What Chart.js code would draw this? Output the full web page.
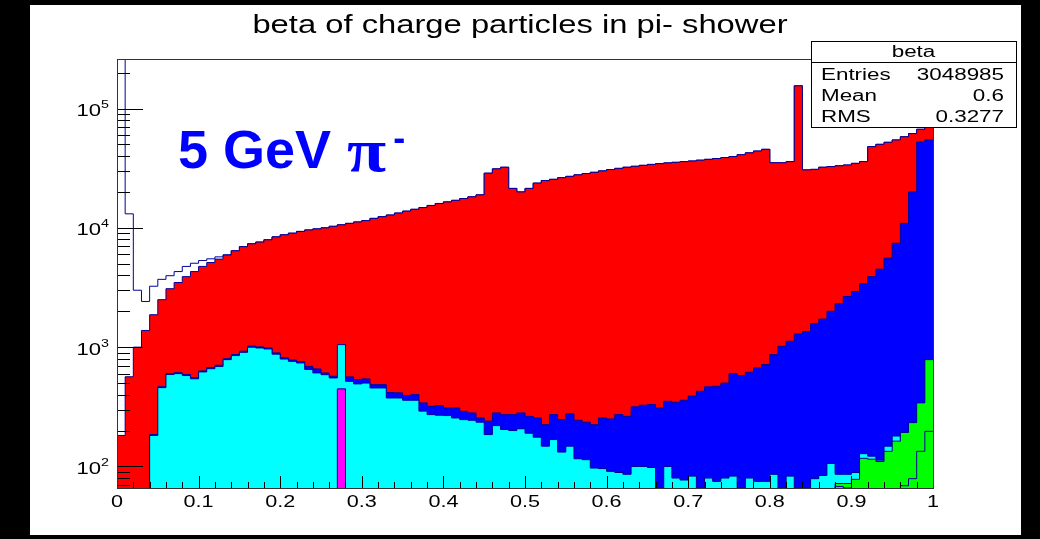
<!DOCTYPE html>
<html>
<head>
<meta charset="utf-8">
<script src="https://cdn.jsdelivr.net/npm/chart.js@4.4.1/dist/chart.umd.min.js"></script>
<style>
  html, body { margin: 0; padding: 0; background: #000; }
  #wrap { position: relative; width: 1040px; height: 539px; }
</style>
</head>
<body>
<div id="wrap"><canvas id="chart-beta"></canvas></div>
<script>
const plotTitle = "beta of charge particles in pi- shower";
const nBins = 100;
const xMin = 0;
const xMax = 1;
const yMin = 66;
const yMax = 2.6e5;
const xTickLabels = ["0", "0.1", "0.2", "0.3", "0.4", "0.5", "0.6", "0.7", "0.8", "0.9", "1"];
const yTickExponents = [2, 3, 4, 5];
const statsName = "beta";
const statsLabels = ["Entries", "Mean", "RMS"];
const statsValues = ["3048985", "0.6", "0.3277"];
const annotation = ["5 GeV ", "\u03c0", "-"];

// bin contents, 100 bins of 0.01 in beta
const hTotal = [
  300000, 13100, 3000, 2415, 3240, 3700, 3970, 4300, 4750, 5050,
  5320, 5500, 5710, 5950, 6420, 6950, 7350, 7600, 7940, 8400,
  8740, 9020, 9330, 9600, 9800, 10000, 10300, 10600, 10900, 11200,
  11500, 12000, 12400, 12800, 13300, 13800, 14300, 14800, 15400, 16000,
  16500, 17000, 17600, 18200, 18900, 28700, 31200, 32200, 21400, 20000,
  21400, 23700, 24900, 25500, 26300, 27000, 27800, 28500, 29200, 30000,
  30800, 31500, 32200, 32800, 33400, 34000, 34500, 35000, 35400, 35900,
  36300, 36900, 37500, 38100, 38800, 39600, 41000, 42500, 44000, 45500,
  35100, 35100, 35900, 155000, 30600, 30900, 32200, 32600, 33100, 33600,
  34700, 35900, 47900, 50100, 52100, 54500, 58000, 61700, 67000, 75000
];
const hRed = [
  182, 565, 1000, 1380, 1870, 2500, 3090, 3480, 3900, 4300,
  4750, 5120, 5470, 5900, 6420, 6950, 7350, 7600, 7940, 8400,
  8740, 9020, 9330, 9600, 9800, 10000, 10300, 10600, 10900, 11200,
  11500, 12000, 12400, 12800, 13300, 13800, 14300, 14800, 15400, 16000,
  16500, 17000, 17600, 18200, 18900, 28700, 31200, 32200, 21400, 20000,
  21400, 23700, 24900, 25500, 26300, 27000, 27800, 28500, 29200, 30000,
  30800, 31500, 32200, 32800, 33400, 34000, 34500, 35000, 35400, 35900,
  36300, 36900, 37500, 38100, 38800, 39600, 41000, 42500, 44000, 45500,
  35100, 35100, 35900, 155000, 30600, 30900, 32200, 32600, 33100, 33600,
  34700, 35900, 47900, 50100, 52100, 54500, 58000, 61700, 67000, 75000
];
const hBlue = [
  0, 0, 0, 0, 185, 465, 600, 610, 590, 555,
  632, 675, 705, 800, 868, 925, 1020, 1005, 985, 895,
  815, 780, 757, 690, 657, 608, 570, 565, 563, 535,
  542, 485, 485, 417, 414, 393, 400, 341, 319, 324,
  309, 309, 290, 281, 255, 240, 281, 272, 272, 281,
  263, 255, 224, 272, 247, 276, 244, 235, 224, 255,
  250, 272, 263, 316, 326, 331, 309, 352, 345, 359,
  389, 427, 465, 470, 500, 600, 577, 616, 670, 714,
  865, 1016, 1120, 1290, 1350, 1570, 1720, 2000, 2310, 2660,
  2930, 3400, 3900, 4500, 5570, 7420, 10900, 20000, 52500, 54500
];
const hCyan = [
  0, 0, 0, 0, 182, 458, 590, 600, 578, 543,
  620, 660, 690, 786, 850, 905, 1000, 985, 966, 874,
  795, 760, 737, 650, 608, 588, 552, 1050, 517, 492,
  500, 455, 455, 375, 375, 359, 359, 291, 272, 269,
  267, 255, 247, 244, 235, 185, 220, 204, 200, 207,
  190, 176, 148, 168, 132, 148, 116, 114, 97, 96,
  91, 89, 86, 100, 100, 98, 60, 100, 80, 77,
  83, 62, 80, 75, 80, 83, 60, 80, 75, 75,
  86, 62, 83, 64, 64, 79, 84, 106, 86, 86,
  89, 128, 122, 113, 148, 180, 150, 160, 200, 300
];
const hGreen = [
  0, 0, 0, 0, 0, 0, 0, 0, 0, 0,
  0, 0, 0, 0, 0, 0, 0, 0, 0, 0,
  0, 0, 0, 0, 0, 0, 0, 0, 0, 0,
  0, 0, 0, 0, 0, 0, 0, 0, 0, 0,
  0, 0, 0, 0, 0, 0, 0, 0, 0, 0,
  0, 0, 0, 0, 0, 0, 0, 0, 0, 0,
  0, 0, 0, 0, 0, 0, 0, 0, 0, 0,
  0, 0, 0, 0, 0, 0, 0, 0, 0, 0,
  0, 0, 0, 0, 0, 0, 0, 0, 72, 72,
  78, 117, 115, 110, 134, 163, 193, 233, 341, 786
];
const hOutline = [
  0, 0, 0, 0, 0, 0, 0, 0, 0, 0,
  0, 0, 0, 0, 0, 0, 0, 0, 0, 0,
  0, 0, 0, 0, 0, 0, 0, 0, 0, 0,
  0, 0, 0, 0, 0, 0, 0, 0, 0, 0,
  0, 0, 0, 0, 0, 0, 0, 0, 0, 0,
  0, 0, 0, 0, 0, 0, 0, 0, 0, 0,
  0, 0, 0, 0, 0, 0, 0, 0, 0, 0,
  0, 0, 0, 0, 0, 0, 0, 0, 0, 0,
  0, 0, 0, 0, 0, 0, 0, 0, 68, 66,
  0, 0, 0, 0, 0, 0, 69, 79, 134, 197
];
const hMagenta = [
  0, 0, 0, 0, 0, 0, 0, 0, 0, 0,
  0, 0, 0, 0, 0, 0, 0, 0, 0, 0,
  0, 0, 0, 0, 0, 0, 0, 447, 0, 0,
  0, 0, 0, 0, 0, 0, 0, 0, 0, 0,
  0, 0, 0, 0, 0, 0, 0, 0, 0, 0,
  0, 0, 0, 0, 0, 0, 0, 0, 0, 0,
  0, 0, 0, 0, 0, 0, 0, 0, 0, 0,
  0, 0, 0, 0, 0, 0, 0, 0, 0, 0,
  0, 0, 0, 0, 0, 0, 0, 0, 0, 0,
  0, 0, 0, 0, 0, 0, 0, 0, 0, 0
];

const lineColor = "#000099";
const binWidth = (xMax - xMin) / nBins;
const floorValue = 1; // empty bins sit below the visible range

// step points at bin low edges, closing point at xMax
function steps(counts) {
  const pts = counts.map((c, i) => ({ x: xMin + i * binWidth, y: Math.max(c, floorValue) }));
  pts.push({ x: xMax, y: Math.max(counts[counts.length - 1], floorValue) });
  return pts;
}

function hist(label, counts, fillColor) {
  return {
    label: label,
    data: steps(counts),
    stepped: true,
    borderColor: lineColor,
    borderWidth: 1,
    backgroundColor: fillColor || "transparent",
    fill: fillColor ? "start" : false,
    pointRadius: 0,
  };
}

function stretchText(ctx, text, x, y, font, align, sx) {
  ctx.save();
  ctx.font = font;
  ctx.textAlign = align;
  ctx.textBaseline = "alphabetic";
  ctx.translate(x, y);
  ctx.scale(sx, 1);
  ctx.fillText(text, 0, 0);
  ctx.restore();
}

const panel = {
  id: "panel",
  beforeDraw(chart) {
    const { ctx } = chart;
    ctx.save();
    ctx.fillStyle = "#000";
    ctx.fillRect(0, 0, chart.width, chart.height);
    ctx.fillStyle = "#fff";
    ctx.fillRect(30, 5, 991, 530);
    ctx.restore();
  },
};

const rootAxes = {
  id: "rootAxes",
  afterDatasetsDraw(chart) {
    const { ctx, chartArea: { left, right, top, bottom } } = chart;
    const xs = chart.scales.x;
    const ys = chart.scales.y;
    ctx.save();
    ctx.strokeStyle = "#000";
    ctx.lineWidth = 1;
    ctx.beginPath();
    // x ticks every 0.02, long at 0.1
    for (let i = 0; i <= 50; i++) {
      const px = Math.round(xs.getPixelForValue(i * 0.02)) + 0.5;
      const len = i % 5 === 0 ? 12 : 6;
      ctx.moveTo(px, bottom);
      ctx.lineTo(px, bottom - len);
    }
    // log y ticks
    for (let e = 1; e <= 5; e++) {
      for (let k = 1; k <= 9; k++) {
        const v = k * Math.pow(10, e);
        if (v < yMin || v > yMax) continue;
        const py = Math.round(ys.getPixelForValue(v)) + 0.5;
        const len = k === 1 ? 26 : 13;
        ctx.moveTo(left, py);
        ctx.lineTo(left + len, py);
      }
    }
    ctx.stroke();
    ctx.strokeStyle = "#333";
    ctx.strokeRect(Math.round(left) + 0.5, Math.round(top) + 0.5, Math.round(right - left), Math.round(bottom - top));
    ctx.restore();
  },
  afterDraw(chart) {
    const { ctx, chartArea: { left, bottom } } = chart;
    const xs = chart.scales.x;
    const ys = chart.scales.y;
    ctx.save();
    ctx.fillStyle = "#000";
    xTickLabels.forEach((lab) => {
      stretchText(ctx, lab, xs.getPixelForValue(parseFloat(lab)), bottom + 19, "16px 'Liberation Sans', Arial", "center", 1.35);
    });
    yTickExponents.forEach((e) => {
      const py = ys.getPixelForValue(Math.pow(10, e));
      const ax = left - 16;
      stretchText(ctx, "10", ax, py + 7.5, "17px 'Liberation Sans', Arial", "right", 1.3);
      stretchText(ctx, String(e), ax, py - 0.5, "11px 'Liberation Sans', Arial", "left", 1.3);
    });

    // title
    stretchText(ctx, plotTitle, 520, 33, "25px 'Liberation Sans', Arial", "center", 1.31);

    // stats box
    const bx = 811, by = 41, bw = 205, bh = 86;
    ctx.fillStyle = "#fff";
    ctx.fillRect(bx, by, bw, bh);
    ctx.strokeStyle = "#000";
    ctx.strokeRect(bx + 0.5, by + 0.5, bw, bh);
    ctx.beginPath();
    ctx.moveTo(bx, by + 21.5);
    ctx.lineTo(bx + bw, by + 21.5);
    ctx.stroke();
    ctx.fillStyle = "#000";
    stretchText(ctx, statsName, bx + bw / 2, by + 16, "16px 'Liberation Sans', Arial", "center", 1.4);
    statsLabels.forEach((lab, i) => {
      const base = by + 39 + i * 21;
      stretchText(ctx, lab, bx + 10, base, "16px 'Liberation Sans', Arial", "left", 1.4);
      stretchText(ctx, statsValues[i], bx + bw - 12, base, "16px 'Liberation Sans', Arial", "right", 1.4);
    });

    // 5 GeV pi- label
    ctx.fillStyle = "#0000ff";
    ctx.font = "bold 54px 'Liberation Sans', Arial";
    ctx.textAlign = "left";
    ctx.textBaseline = "alphabetic";
    ctx.fillText(annotation[0], 178, 168);
    const w0 = ctx.measureText(annotation[0]).width;
    ctx.font = "bold 64px 'Liberation Serif', serif";
    stretchText(ctx, annotation[1], 178 + w0 + 1, 171, "bold 62px 'Liberation Serif', serif", "left", 1.15);
    ctx.font = "bold 62px 'Liberation Serif', serif";
    const w1 = ctx.measureText(annotation[1]).width * 1.15;
    stretchText(ctx, annotation[2], 178 + w0 + w1 + 8, 150, "bold 36px 'Liberation Sans', Arial", "left", 1);
    ctx.restore();
  },
};

const config = {
  type: "line",
  data: {
    datasets: [
      hist("magenta", hMagenta, "#ff00ff"),
      hist("outline", hOutline, null),
      hist("green", hGreen, "#00ff00"),
      hist("cyan", hCyan, "#00ffff"),
      hist("blue", hBlue, "#0000ff"),
      hist("red", hRed, "#ff0000"),
      hist("all", hTotal, null),
    ],
  },
  options: {
    responsive: true,
    maintainAspectRatio: false,
    animation: false,
    layout: { padding: { left: 117, right: 107, top: 59, bottom: 51 } },
    scales: {
      x: { type: "linear", min: xMin, max: xMax, display: false },
      y: { type: "logarithmic", min: yMin, max: yMax, display: false },
    },
    plugins: {
      legend: { display: false },
      tooltip: { enabled: false },
      title: { display: false },
    },
  },
  plugins: [panel, rootAxes],
};

const chartBeta = new Chart(document.getElementById("chart-beta"), config);
</script>
</body>
</html>
